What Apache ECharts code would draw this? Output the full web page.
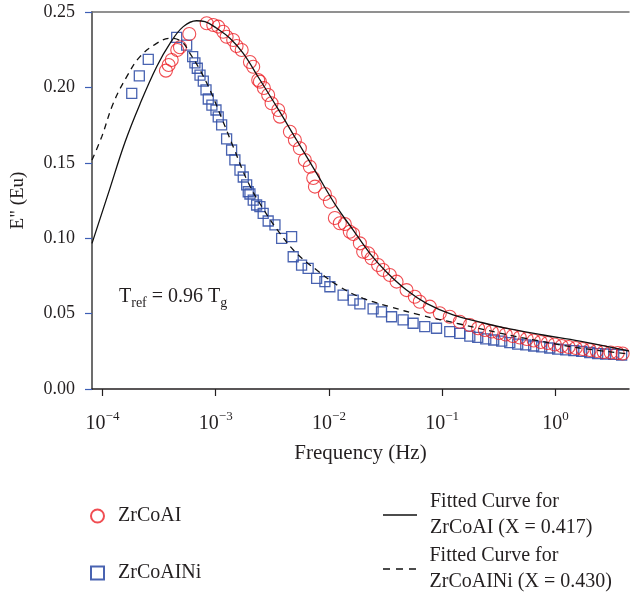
<!DOCTYPE html>
<html>
<head>
<meta charset="utf-8">
<script src="https://cdn.jsdelivr.net/npm/echarts@6.0.0/dist/echarts.min.js"></script>
<style>
  html, body { margin: 0; padding: 0; background: #fff; }
  #chart { width: 630px; height: 597px; }
</style>
</head>
<body>
<div id="chart"></div>
<script>
// frequency given as log10(Hz), E'' in Eu
var alFreqExp = [-3.440, -3.416, -3.389, -3.340, -3.316, -3.234, -3.080, -3.022, -2.978, -2.934,
  -2.904, -2.846, -2.816, -2.771, -2.698, -2.669, -2.625, -2.610, -2.575, -2.537,
  -2.507, -2.448, -2.433, -2.345, -2.301, -2.257, -2.213, -2.169, -2.139, -2.124,
  -2.036, -1.992, -1.948, -1.904, -1.860, -1.816, -1.786, -1.727, -1.698, -1.654,
  -1.624, -1.566, -1.522, -1.462, -1.403, -1.315, -1.242, -1.198, -1.109, -1.021,
  -0.933, -0.845, -0.756, -0.683, -0.624, -0.562, -0.500, -0.439, -0.377, -0.315,
  -0.253, -0.192, -0.130, -0.068, -0.006, 0.056, 0.117, 0.179, 0.241, 0.303,
  0.365, 0.426, 0.488, 0.550, 0.594];
var alLoss = [0.2111, 0.2149, 0.2182, 0.2248, 0.2266, 0.2354, 0.2425, 0.2414, 0.2403, 0.2369,
  0.2336, 0.2314, 0.2275, 0.2248, 0.2168, 0.2137, 0.2049, 0.2038, 0.1996, 0.1950,
  0.1895, 0.1850, 0.1806, 0.1706, 0.1651, 0.1596, 0.1519, 0.1474, 0.1399, 0.1342,
  0.1293, 0.1242, 0.1134, 0.1099, 0.1094, 0.1043, 0.1028, 0.0966, 0.0910, 0.0900,
  0.0867, 0.0822, 0.0789, 0.0756, 0.0712, 0.0656, 0.0612, 0.0579, 0.0546, 0.0502,
  0.0479, 0.0446, 0.0424, 0.0403, 0.0391, 0.0381, 0.0371, 0.0361, 0.0351, 0.0342,
  0.0332, 0.0322, 0.0312, 0.0305, 0.0295, 0.0285, 0.0279, 0.0272, 0.0265, 0.0259,
  0.0252, 0.0245, 0.0242, 0.0239, 0.0235];

var niFreqExp = [-3.742, -3.675, -3.596, -3.345, -3.257, -3.204, -3.184, -3.163, -3.139, -3.110,
  -3.086, -3.066, -3.034, -2.998, -2.978, -2.948, -2.904, -2.860, -2.831, -2.786,
  -2.757, -2.727, -2.713, -2.698, -2.669, -2.639, -2.610, -2.581, -2.537, -2.477,
  -2.418, -2.330, -2.316, -2.242, -2.184, -2.109, -2.036, -1.992, -1.875, -1.786,
  -1.727, -1.610, -1.536, -1.447, -1.345, -1.257, -1.154, -1.050, -0.933, -0.845,
  -0.756, -0.686, -0.615, -0.545, -0.474, -0.403, -0.333, -0.262, -0.192, -0.121,
  -0.050, 0.020, 0.091, 0.162, 0.232, 0.303, 0.373, 0.444, 0.515, 0.585];
var niLoss = [0.1961, 0.2076, 0.2186, 0.2332, 0.2281, 0.2204, 0.2162, 0.2127, 0.2082, 0.2042,
  0.1983, 0.1923, 0.1883, 0.1850, 0.1804, 0.1751, 0.1658, 0.1585, 0.1519, 0.1452,
  0.1406, 0.1353, 0.1308, 0.1293, 0.1253, 0.1220, 0.1209, 0.1165, 0.1114, 0.1088,
  0.0999, 0.1010, 0.0877, 0.0822, 0.0800, 0.0734, 0.0712, 0.0678, 0.0623, 0.0590,
  0.0564, 0.0531, 0.0511, 0.0479, 0.0458, 0.0436, 0.0413, 0.0403, 0.0380, 0.0369,
  0.0351, 0.0342, 0.0332, 0.0325, 0.0318, 0.0308, 0.0298, 0.0292, 0.0285, 0.0279,
  0.0272, 0.0265, 0.0259, 0.0255, 0.0249, 0.0242, 0.0235, 0.0232, 0.0229, 0.0225];

// fitted curves
var fitAlFreqExp = [-4.093, -3.951, -3.801, -3.669, -3.522, -3.404, -3.287, -3.169, -3.095, -2.992,
  -2.875, -2.757, -2.625, -2.462, -2.286, -2.109, -1.933, -1.786, -1.639, -1.492,
  -1.315, -1.139, -0.904, -0.668, -0.403, -0.109, 0.215, 0.650];
var fitAlLoss = [0.0966, 0.1292, 0.1638, 0.1890, 0.2137, 0.2292, 0.2403, 0.2442, 0.2436, 0.2392,
  0.2326, 0.2226, 0.2069, 0.1872, 0.1651, 0.1430, 0.1209, 0.1054, 0.0900, 0.0776,
  0.0656, 0.0568, 0.0491, 0.0444, 0.0398, 0.0358, 0.0318, 0.0252];

var fitNiFreqExp = [-4.093, -4.007, -3.905, -3.786, -3.669, -3.522, -3.404, -3.301, -3.228, -3.139,
  -3.051, -2.948, -2.846, -2.716, -2.575, -2.433, -2.286, -2.109, -1.904, -1.698,
  -1.462, -1.198, -0.845, -0.492, -0.139, 0.215, 0.650];
var fitNiLoss = [0.1519, 0.1673, 0.1895, 0.2071, 0.2204, 0.2292, 0.2326, 0.2303, 0.2226, 0.2115,
  0.1983, 0.1797, 0.1607, 0.1373, 0.1187, 0.1032, 0.0900, 0.0789, 0.0678, 0.0601,
  0.0546, 0.0491, 0.0431, 0.0371, 0.0318, 0.0272, 0.0232];

var xTicks = [1e-4, 1e-3, 1e-2, 1e-1, 1];

var nameAl = 'ZrCoAI';
var nameNi = 'ZrCoAINi';
var nameFitAl = 'Fitted Curve for\nZrCoAI (X = 0.417)';
var nameFitNi = 'Fitted Curve for\nZrCoAINi (X = 0.430)';

function pairs(exps, vals) {
  return exps.map(function (e, i) { return [Math.pow(10, e), vals[i]]; });
}

var font = 'Liberation Serif';
var ink = '#231f20';
var legendText = { fontSize: 20, fontFamily: font, color: ink, lineHeight: 26, padding: [0, 0, 0, 8] };

// legend icons for the fitted curves: plain solid / dashed strokes
var solidIcon = 'path://M0,0H34V1.4H0Z';
var dashIcon = 'path://M0,0H7V1.4H0Z M13,0H20V1.4H13Z M26,0H33V1.4H26Z';

var chart = echarts.init(document.getElementById('chart'));

var option = {
  backgroundColor: '#fff',
  animation: false,
  textStyle: { fontFamily: font, color: ink },
  grid: { left: 92, right: 1, top: 12, bottom: 208 },
  xAxis: [{
    type: 'log',
    logBase: 10,
    min: Math.pow(10, -4.093),
    max: Math.pow(10, 0.65),
    name: 'Frequency (Hz)',
    nameLocation: 'middle',
    nameGap: 54,
    nameTextStyle: { fontSize: 21, fontFamily: font, color: ink },
    axisLine: { lineStyle: { color: ink, width: 1.5 } },
    axisTick: { customValues: xTicks, length: 7, lineStyle: { color: ink, width: 1.2 } },
    minorTick: { show: false },
    splitLine: { show: false },
    axisLabel: {
      customValues: xTicks,
      margin: 21,
      color: ink,
      fontFamily: font,
      fontSize: 20,
      formatter: function (v) {
        var p = Math.round(Math.log10(v));
        return '{b|10}{sup|' + (p < 0 ? '\u2212' + (-p) : p) + '}';
      },
      rich: {
        b: { fontSize: 20, fontFamily: font, color: ink, lineHeight: 24, verticalAlign: 'bottom' },
        sup: { fontSize: 13, fontFamily: font, color: ink, lineHeight: 24, verticalAlign: 'top' }
      }
    }
  }, {
    type: 'value',
    position: 'top',
    min: 0,
    max: 1,
    axisLine: { show: true, lineStyle: { color: '#6d6d6d', width: 1.5 } },
    axisTick: { show: false },
    axisLabel: { show: false },
    splitLine: { show: false }
  }],
  yAxis: {
    type: 'value',
    min: 0,
    max: 0.25,
    interval: 0.05,
    name: 'E" (Eu)',
    nameLocation: 'middle',
    nameRotate: 90,
    nameGap: 64,
    nameTextStyle: { fontSize: 19, fontFamily: font, color: ink },
    axisLine: { show: true, lineStyle: { color: '#6d6d6d', width: 2 } },
    axisTick: { show: true, length: 7, lineStyle: { color: '#3d5fb5', width: 1.2 } },
    axisLabel: {
      margin: 17,
      fontSize: 18,
      fontFamily: font,
      color: ink,
      formatter: function (v) { return v.toFixed(2); }
    },
    splitLine: { show: false }
  },
  legend: [{
    data: [nameAl, nameNi],
    orient: 'vertical',
    left: 90,
    top: 506,
    padding: 0,
    itemWidth: 13,
    itemHeight: 13,
    itemGap: 37,
    selectedMode: false,
    textStyle: { fontSize: 20, fontFamily: font, color: ink, padding: [0, 0, 0, 9] }
  }, {
    data: [{ name: nameFitAl, icon: solidIcon }],
    left: 383,
    top: 489,
    padding: 0,
    itemWidth: 34,
    itemHeight: 1.4,
    selectedMode: false,
    itemStyle: { color: '#111', borderWidth: 0 },
    textStyle: legendText
  }, {
    data: [{ name: nameFitNi, icon: dashIcon }],
    left: 383,
    top: 543,
    padding: 0,
    itemWidth: 34,
    itemHeight: 1.4,
    selectedMode: false,
    itemStyle: { color: '#111', borderWidth: 0 },
    textStyle: legendText
  }],
  graphic: [{
    type: 'text',
    left: 119,
    top: 283,
    style: {
      text: 'T{sub|ref} = 0.96 T{sub|g}',
      font: '20px "Liberation Serif"',
      fill: ink,
      lineHeight: 27,
      rich: {
        sub: { fontSize: 14, fontFamily: font, fill: ink, lineHeight: 27, verticalAlign: 'bottom' }
      }
    }
  }],
  series: [{
    name: nameNi,
    type: 'scatter',
    symbol: 'rect',
    symbolSize: 10,
    data: pairs(niFreqExp, niLoss),
    itemStyle: { color: 'transparent', borderColor: '#3552a8', borderWidth: 1.3, opacity: 0.9 }
  }, {
    name: nameAl,
    type: 'scatter',
    symbol: 'circle',
    symbolSize: 13,
    data: pairs(alFreqExp, alLoss),
    itemStyle: { color: 'transparent', borderColor: '#ec2027', borderWidth: 1.1 }
  }, {
    name: nameFitAl,
    type: 'line',
    smooth: 0.4,
    symbol: 'none',
    data: pairs(fitAlFreqExp, fitAlLoss),
    lineStyle: { color: '#111', width: 1.3 },
    itemStyle: { color: '#111' }
  }, {
    name: nameFitNi,
    type: 'line',
    smooth: 0.4,
    symbol: 'none',
    data: pairs(fitNiFreqExp, fitNiLoss),
    lineStyle: { color: '#111', width: 1.3, type: [6, 5] },
    itemStyle: { color: '#111' }
  }]
};

chart.setOption(option);
</script>
</body>
</html>
